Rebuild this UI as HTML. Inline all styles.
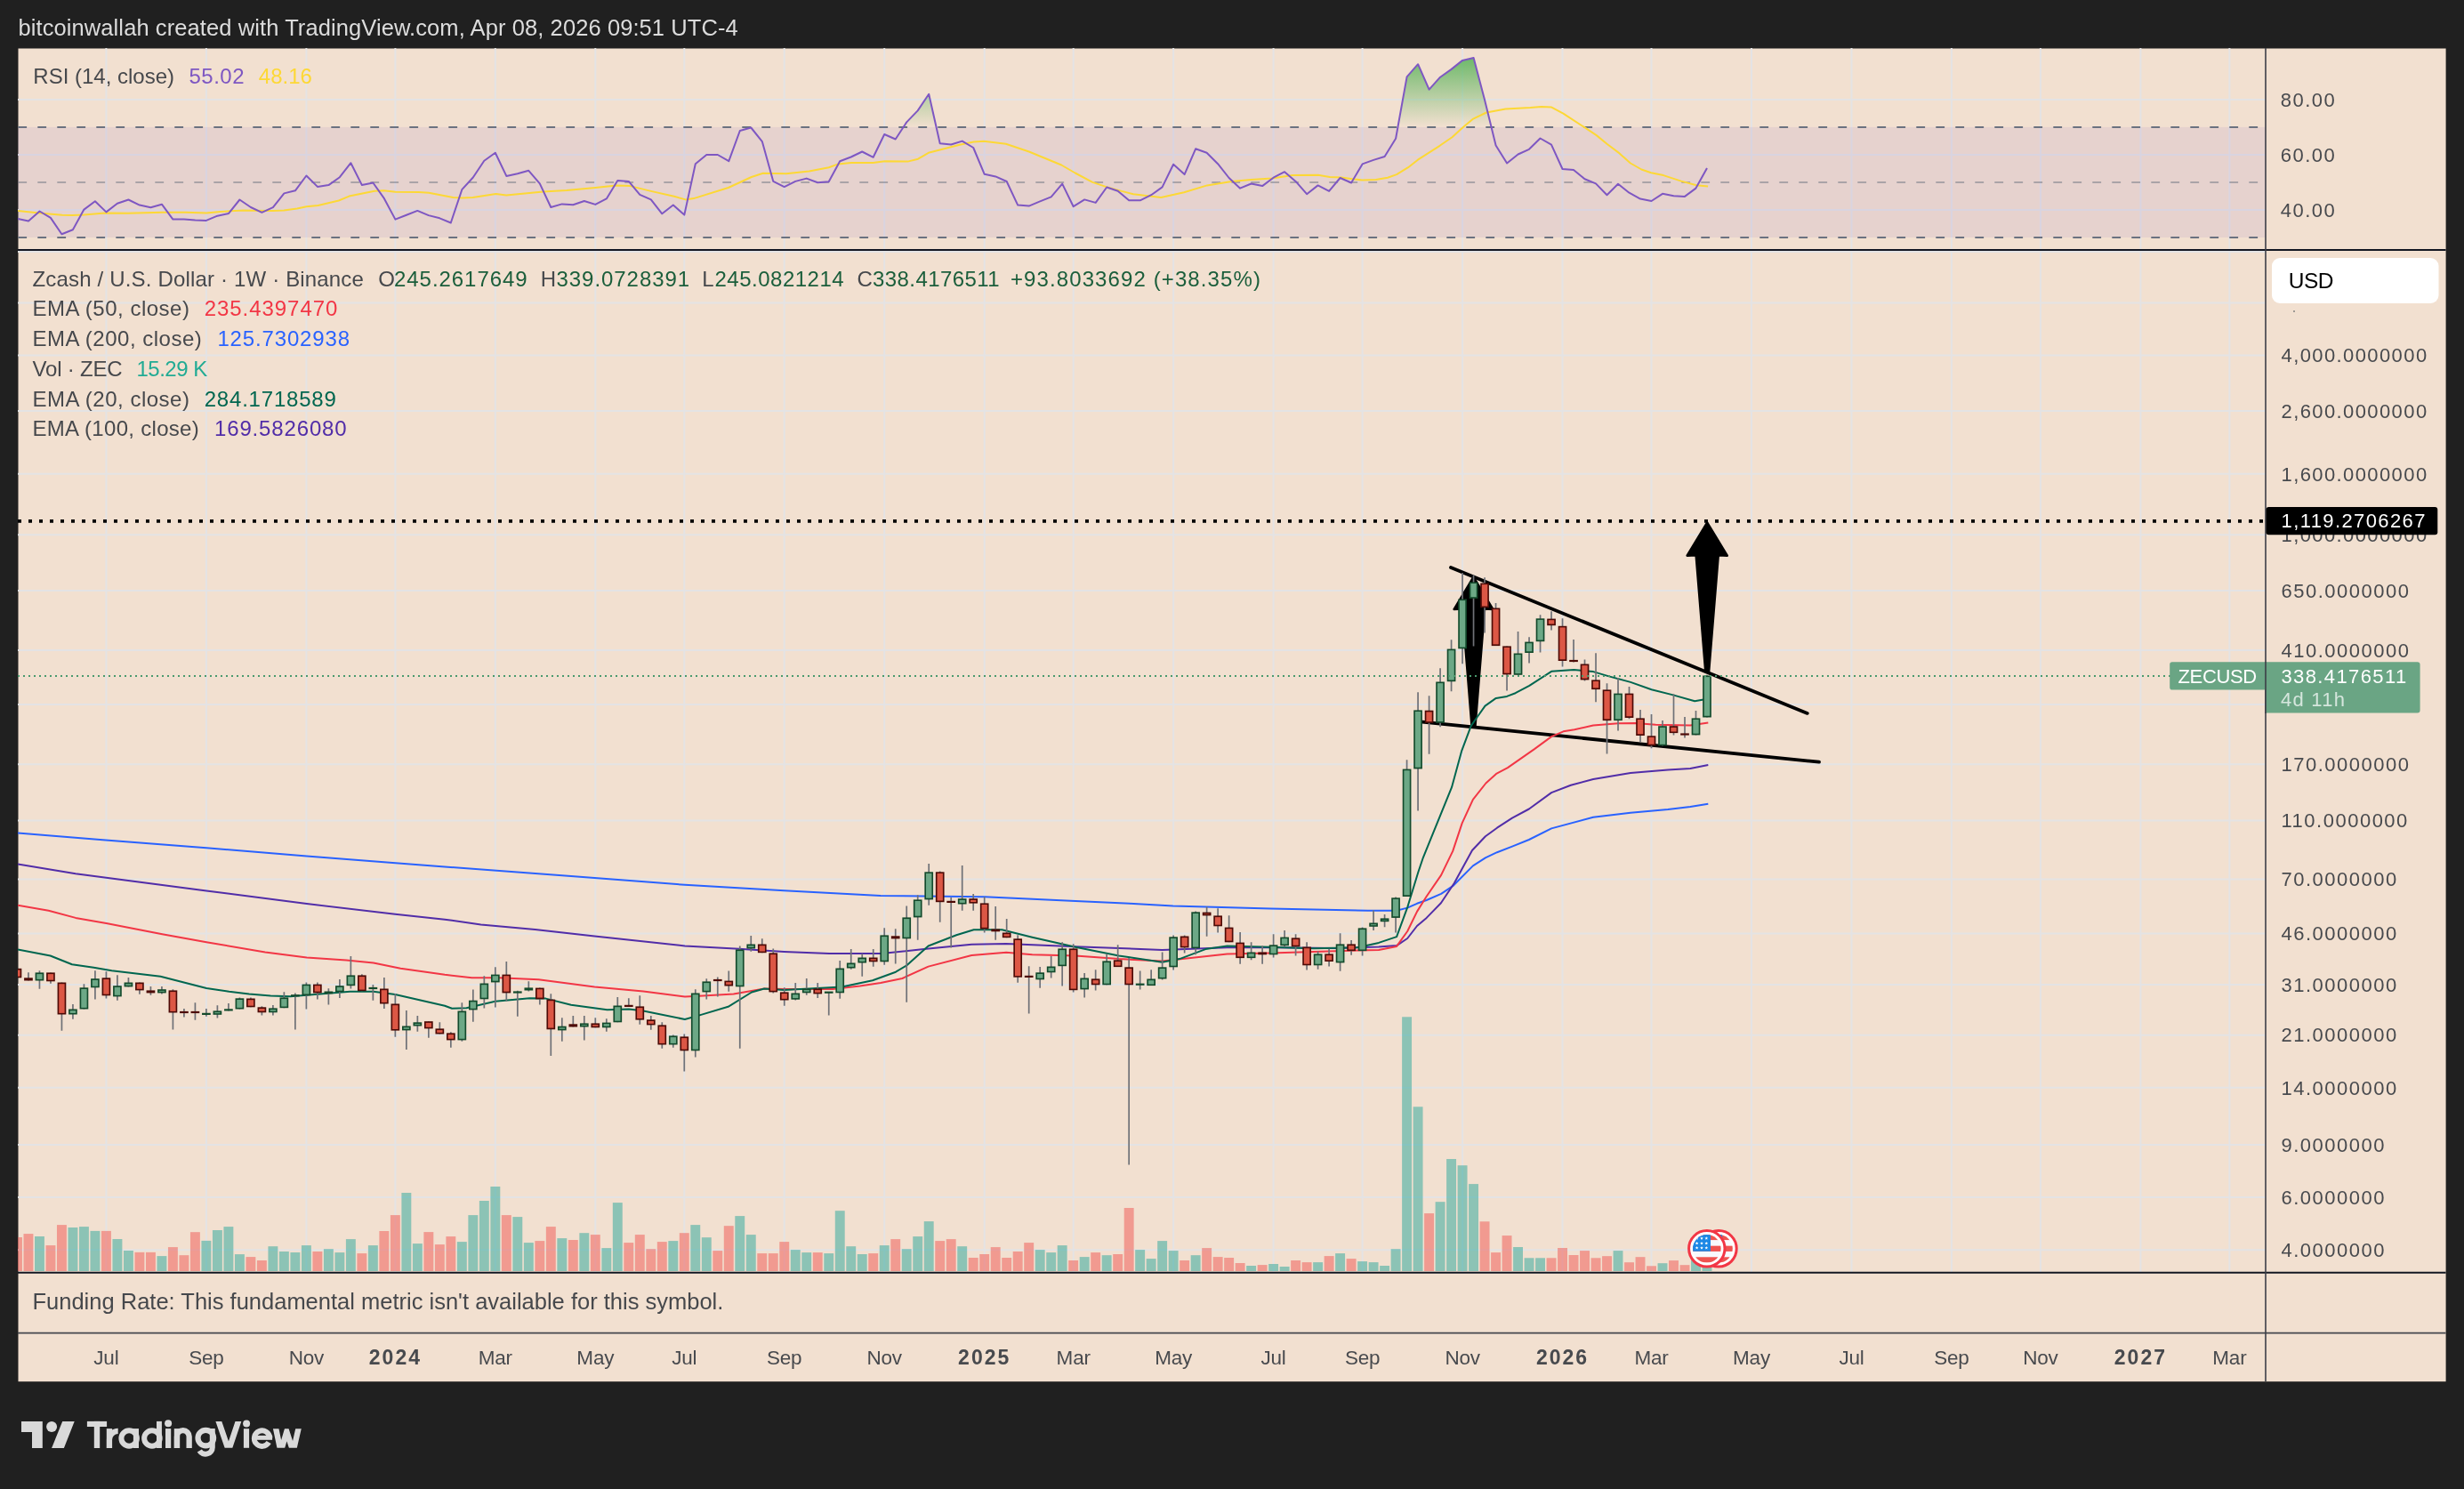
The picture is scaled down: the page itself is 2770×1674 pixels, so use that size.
<!DOCTYPE html>
<html><head><meta charset="utf-8"><title>ZECUSD chart</title>
<style>
html,body{margin:0;padding:0;background:#202020;width:2770px;height:1674px;overflow:hidden}
svg{position:absolute;left:0;top:0;display:block;will-change:transform}
text{font-family:"Liberation Sans", sans-serif}
</style></head><body>
<svg width="2770" height="1674" viewBox="0 0 2770 1674">
<defs>
<clipPath id="cpMain"><rect x="20" y="281" width="2527" height="1149.5"/></clipPath>
<clipPath id="cpRsi"><rect x="20" y="54" width="2527" height="227"/></clipPath>
<clipPath id="cpOB"><rect x="20" y="54" width="2527" height="88.9"/></clipPath>
<linearGradient id="gOB" x1="0" y1="49.8" x2="0" y2="142.9" gradientUnits="userSpaceOnUse">
<stop offset="0" stop-color="#4caf50" stop-opacity="0.95"/><stop offset="1" stop-color="#4caf50" stop-opacity="0"/></linearGradient>
</defs>

<rect x="0" y="0" width="2770" height="1674" fill="#202020"/>
<rect x="20.5" y="54.5" width="2729.1" height="1498.7" fill="#f2e0d0"/>
<path d="M119.4 54V1430.5 M231.9 54V1430.5 M344.4 54V1430.5 M444.4 54V1430.5 M556.8 54V1430.5 M669.3 54V1430.5 M769.3 54V1430.5 M881.7 54V1430.5 M994.2 54V1430.5 M1106.7 54V1430.5 M1206.7 54V1430.5 M1319.1 54V1430.5 M1431.6 54V1430.5 M1531.6 54V1430.5 M1644.1 54V1430.5 M1756.5 54V1430.5 M1856.5 54V1430.5 M1969.0 54V1430.5 M2081.5 54V1430.5 M2193.9 54V1430.5 M2293.9 54V1430.5 M2406.4 54V1430.5 M2506.4 54V1430.5 M20 283.0H2547 M20 340.4H2547 M20 399.4H2547 M20 462.1H2547 M20 532.8H2547 M20 601.2H2547 M20 664.0H2547 M20 731.1H2547 M20 791.9H2547 M20 859.2H2547 M20 922.6H2547 M20 988.4H2547 M20 1049.6H2547 M20 1107.0H2547 M20 1163.7H2547 M20 1222.8H2547 M20 1287.1H2547 M20 1346.1H2547 M20 1405.2H2547 M20 111.9H2547 M20 173.9H2547 M20 236.0H2547" stroke="#e4e3e4" stroke-width="2" fill="none"/>
<rect x="20" y="142.9" width="2527" height="124.1" fill="#7e57c2" fill-opacity="0.1"/>
<path d="M20.3 142.9H2547M20.3 267.0H2547" stroke="#6b7280" stroke-width="2" stroke-dasharray="9.8 12.2"/>
<path d="M20.3 204.9H2547" stroke="#787b86" stroke-opacity="0.55" stroke-width="2" stroke-dasharray="9.8 12.2"/>
<g clip-path="url(#cpOB)"><polygon points="20,246.1 32,248.6 44.5,237.5 56.9,244.9 69.4,263.2 81.9,258.3 94.4,235.6 106.9,226.2 119.4,238.4 131.9,228.8 144.4,224.5 156.9,230.6 169.4,233.2 181.9,229.7 194.4,246.6 206.9,246.6 219.4,247.5 231.9,247.9 244.4,242.7 256.9,240.1 269.4,224.5 281.9,233 294.4,238.8 306.9,233.2 319.4,217.4 331.9,214.3 344.4,197.5 356.9,209.9 369.4,208.1 381.9,199.2 394.4,183.2 406.9,208.1 419.4,205.5 431.9,223.2 444.4,246.6 456.9,241.7 469.3,236.9 481.8,242.1 494.3,245.3 506.8,250.5 519.3,213.2 531.8,199.5 544.3,180.8 556.8,171.7 569.3,197.9 581.8,195.3 594.3,191.8 606.8,206.4 619.3,233 631.8,229.4 644.3,230.3 656.8,226 669.3,229.9 681.8,223.4 694.3,203 706.8,203.9 719.3,218.8 731.8,224.4 744.3,240.3 756.8,230.5 769.3,241.6 781.8,184.2 794.3,174 806.8,174 819.3,181.2 831.8,147 844.3,143.5 856.8,159.1 869.3,203.9 881.7,210.1 894.2,203.9 906.7,200.6 919.2,205.2 931.7,204.3 944.2,181.2 956.7,176.5 969.2,170.5 981.7,176.8 994.2,151 1006.7,156.5 1019.2,137.4 1031.7,124.4 1044.2,105.8 1056.7,161.2 1069.2,162.5 1081.7,158.6 1094.2,166 1106.7,195.8 1119.2,198.4 1131.7,204 1144.2,230.6 1156.7,231.6 1169.2,226.4 1181.7,221.4 1194.2,206.6 1206.7,232.2 1219.2,224.4 1231.7,227.9 1244.2,210.5 1256.7,214.7 1269.2,225.2 1281.7,225.3 1294.2,219.2 1306.6,210.4 1319.1,184.7 1331.6,196.1 1344.1,167.3 1356.6,171.7 1369.1,184.2 1381.6,200 1394.1,211.7 1406.6,206.5 1419.1,209.1 1431.6,199.7 1444.1,193.2 1456.6,203.9 1469.1,218.2 1481.6,208.4 1494.1,214.9 1506.6,200 1519.1,205.5 1531.6,184.4 1544.1,179.9 1556.6,176 1569.1,155.8 1581.6,86.4 1594.1,72.2 1606.6,100.6 1619.1,86.7 1631.6,77.9 1644.1,67.9 1656.6,65.1 1669.1,112.6 1681.6,163.5 1694.1,183.5 1706.6,173.5 1719,167.8 1731.5,155.5 1744,162.7 1756.5,190 1769,191 1781.5,201.3 1794,206.4 1806.5,219.3 1819,206.7 1831.5,216.7 1844,223.6 1856.5,226 1869,217.8 1881.5,220.3 1894,220.9 1906.5,211.6 1919,188.9 1919,142.9 20,142.9" fill="url(#gOB)"/></g>
<g clip-path="url(#cpRsi)" fill="none" stroke-width="2" stroke-linejoin="round">
<polyline points="20.2,236.9 43.9,239.5 69.8,241.7 81.5,242.1 94.5,241.4 117.9,239.5 143.9,239.7 182.8,238.8 208.8,238.8 232.2,239.5 247.8,237.9 273.7,236.5 306.2,236.9 319.2,236.6 334,234.5 344.5,232.3 357.5,231 380.8,225.5 392.5,220.6 421.1,214.8 431.5,214.2 444.5,215.8 470.5,216.1 482.1,216.8 509.4,221.9 519.8,222.6 531.5,221.9 557.5,218.1 569.2,219.4 597.7,216.8 610.7,215.5 637,214 669.5,211 692.8,208.4 708.4,209.1 731.8,214.9 757.8,220.8 770.8,224.4 779.9,223.1 818.8,211 844.8,199 857.8,194.8 883.8,195.2 909.7,192.5 931.8,188.3 942.2,184.4 957,183.1 981.5,182.9 994.5,181.2 1020.4,181.6 1032.1,178.7 1043.8,171.8 1078.9,162.7 1094.5,159.5 1106.1,158.8 1130.8,161.7 1156.8,170.5 1193.2,185.5 1208.7,194.5 1228.2,204.9 1243.8,210.1 1261,214.9 1274,218.2 1305.2,222.1 1331.1,216.2 1357.1,208.4 1384.4,203.9 1406.5,202 1429.8,200.6 1453.2,197.1 1481.8,196.8 1494.8,199 1507.8,199.4 1531.1,202.6 1546.7,201.9 1560,199.7 1570.1,196.1 1583.1,188.2 1593.9,179.7 1618.6,163.8 1632.5,154.2 1644.8,143.1 1655.6,133.9 1671,126.5 1692.6,122.6 1720.4,121.1 1732.7,120 1744.3,120.6 1757.4,127.7 1780.5,142.7 1794.4,151.9 1806.8,162 1820.6,172.4 1833,183.5 1845.3,190.5 1856.1,194.3 1870,197.1 1890,203.6 1907,208.2 1920.1,209.5" stroke="#fdd835"/>
<polyline points="20,246.1 32,248.6 44.5,237.5 56.9,244.9 69.4,263.2 81.9,258.3 94.4,235.6 106.9,226.2 119.4,238.4 131.9,228.8 144.4,224.5 156.9,230.6 169.4,233.2 181.9,229.7 194.4,246.6 206.9,246.6 219.4,247.5 231.9,247.9 244.4,242.7 256.9,240.1 269.4,224.5 281.9,233 294.4,238.8 306.9,233.2 319.4,217.4 331.9,214.3 344.4,197.5 356.9,209.9 369.4,208.1 381.9,199.2 394.4,183.2 406.9,208.1 419.4,205.5 431.9,223.2 444.4,246.6 456.9,241.7 469.3,236.9 481.8,242.1 494.3,245.3 506.8,250.5 519.3,213.2 531.8,199.5 544.3,180.8 556.8,171.7 569.3,197.9 581.8,195.3 594.3,191.8 606.8,206.4 619.3,233 631.8,229.4 644.3,230.3 656.8,226 669.3,229.9 681.8,223.4 694.3,203 706.8,203.9 719.3,218.8 731.8,224.4 744.3,240.3 756.8,230.5 769.3,241.6 781.8,184.2 794.3,174 806.8,174 819.3,181.2 831.8,147 844.3,143.5 856.8,159.1 869.3,203.9 881.7,210.1 894.2,203.9 906.7,200.6 919.2,205.2 931.7,204.3 944.2,181.2 956.7,176.5 969.2,170.5 981.7,176.8 994.2,151 1006.7,156.5 1019.2,137.4 1031.7,124.4 1044.2,105.8 1056.7,161.2 1069.2,162.5 1081.7,158.6 1094.2,166 1106.7,195.8 1119.2,198.4 1131.7,204 1144.2,230.6 1156.7,231.6 1169.2,226.4 1181.7,221.4 1194.2,206.6 1206.7,232.2 1219.2,224.4 1231.7,227.9 1244.2,210.5 1256.7,214.7 1269.2,225.2 1281.7,225.3 1294.2,219.2 1306.6,210.4 1319.1,184.7 1331.6,196.1 1344.1,167.3 1356.6,171.7 1369.1,184.2 1381.6,200 1394.1,211.7 1406.6,206.5 1419.1,209.1 1431.6,199.7 1444.1,193.2 1456.6,203.9 1469.1,218.2 1481.6,208.4 1494.1,214.9 1506.6,200 1519.1,205.5 1531.6,184.4 1544.1,179.9 1556.6,176 1569.1,155.8 1581.6,86.4 1594.1,72.2 1606.6,100.6 1619.1,86.7 1631.6,77.9 1644.1,67.9 1656.6,65.1 1669.1,112.6 1681.6,163.5 1694.1,183.5 1706.6,173.5 1719,167.8 1731.5,155.5 1744,162.7 1756.5,190 1769,191 1781.5,201.3 1794,206.4 1806.5,219.3 1819,206.7 1831.5,216.7 1844,223.6 1856.5,226 1869,217.8 1881.5,220.3 1894,220.9 1906.5,211.6 1919,188.9" stroke="#7e57c2"/>
</g>
<g clip-path="url(#cpMain)">
<g fill="#26a69a" fill-opacity="0.5"><rect x="39.00" y="1390.0" width="10.9" height="39.0"/><rect x="76.49" y="1380.0" width="10.9" height="49.0"/><rect x="88.99" y="1379.1" width="10.9" height="49.9"/><rect x="101.48" y="1383.9" width="10.9" height="45.1"/><rect x="126.48" y="1393.0" width="10.9" height="36.0"/><rect x="138.98" y="1406.0" width="10.9" height="23.0"/><rect x="176.47" y="1412.1" width="10.9" height="16.9"/><rect x="226.45" y="1394.9" width="10.9" height="34.1"/><rect x="238.95" y="1383.0" width="10.9" height="46.0"/><rect x="251.45" y="1379.1" width="10.9" height="49.9"/><rect x="263.95" y="1410.1" width="10.9" height="18.9"/><rect x="301.44" y="1401.2" width="10.9" height="27.8"/><rect x="313.93" y="1407.0" width="10.9" height="22.0"/><rect x="326.43" y="1408.0" width="10.9" height="21.0"/><rect x="338.93" y="1400.1" width="10.9" height="28.9"/><rect x="363.92" y="1404.2" width="10.9" height="24.8"/><rect x="376.42" y="1408.1" width="10.9" height="20.9"/><rect x="388.92" y="1393.1" width="10.9" height="35.9"/><rect x="413.91" y="1400.1" width="10.9" height="28.9"/><rect x="451.40" y="1341.0" width="10.9" height="88.0"/><rect x="463.90" y="1398.1" width="10.9" height="30.9"/><rect x="513.89" y="1396.1" width="10.9" height="32.9"/><rect x="526.38" y="1366.1" width="10.9" height="62.9"/><rect x="538.88" y="1350.0" width="10.9" height="79.0"/><rect x="551.38" y="1334.0" width="10.9" height="95.0"/><rect x="576.37" y="1368.1" width="10.9" height="60.9"/><rect x="588.87" y="1397.1" width="10.9" height="31.9"/><rect x="626.36" y="1392.1" width="10.9" height="36.9"/><rect x="651.35" y="1386.2" width="10.9" height="42.8"/><rect x="676.35" y="1403.1" width="10.9" height="25.9"/><rect x="688.84" y="1352.1" width="10.9" height="76.9"/><rect x="751.33" y="1395.1" width="10.9" height="33.9"/><rect x="776.32" y="1377.1" width="10.9" height="51.9"/><rect x="788.82" y="1391.2" width="10.9" height="37.8"/><rect x="826.31" y="1367.1" width="10.9" height="61.9"/><rect x="838.81" y="1388.1" width="10.9" height="40.9"/><rect x="888.80" y="1405.1" width="10.9" height="23.9"/><rect x="901.29" y="1408.1" width="10.9" height="20.9"/><rect x="926.29" y="1409.1" width="10.9" height="19.9"/><rect x="938.78" y="1361.2" width="10.9" height="67.8"/><rect x="951.28" y="1401.2" width="10.9" height="27.8"/><rect x="963.78" y="1410.0" width="10.9" height="19.0"/><rect x="988.77" y="1400.1" width="10.9" height="28.9"/><rect x="1013.77" y="1404.2" width="10.9" height="24.8"/><rect x="1026.26" y="1390.1" width="10.9" height="38.9"/><rect x="1038.76" y="1373.1" width="10.9" height="55.9"/><rect x="1076.25" y="1401.2" width="10.9" height="27.8"/><rect x="1163.73" y="1405.1" width="10.9" height="23.9"/><rect x="1176.23" y="1408.1" width="10.9" height="20.9"/><rect x="1188.72" y="1400.1" width="10.9" height="28.9"/><rect x="1213.72" y="1413.1" width="10.9" height="15.9"/><rect x="1238.71" y="1411.2" width="10.9" height="17.8"/><rect x="1276.20" y="1405.1" width="10.9" height="23.9"/><rect x="1288.70" y="1415.1" width="10.9" height="13.9"/><rect x="1301.20" y="1395.1" width="10.9" height="33.9"/><rect x="1313.69" y="1406.1" width="10.9" height="22.9"/><rect x="1338.69" y="1411.2" width="10.9" height="17.8"/><rect x="1401.17" y="1423.0" width="10.9" height="6.0"/><rect x="1426.17" y="1421.0" width="10.9" height="8.0"/><rect x="1438.66" y="1424.0" width="10.9" height="5.0"/><rect x="1476.15" y="1419.1" width="10.9" height="9.9"/><rect x="1501.15" y="1409.1" width="10.9" height="19.9"/><rect x="1526.14" y="1418.1" width="10.9" height="10.9"/><rect x="1538.64" y="1419.1" width="10.9" height="9.9"/><rect x="1551.14" y="1423.0" width="10.9" height="6.0"/><rect x="1563.63" y="1404.2" width="10.9" height="24.8"/><rect x="1576.13" y="1143.3" width="10.9" height="285.7"/><rect x="1588.63" y="1244.3" width="10.9" height="184.7"/><rect x="1613.62" y="1351.2" width="10.9" height="77.8"/><rect x="1626.12" y="1303.0" width="10.9" height="126.0"/><rect x="1638.62" y="1310.2" width="10.9" height="118.8"/><rect x="1651.11" y="1331.1" width="10.9" height="97.9"/><rect x="1701.10" y="1402.0" width="10.9" height="27.0"/><rect x="1713.60" y="1414.3" width="10.9" height="14.7"/><rect x="1726.10" y="1414.3" width="10.9" height="14.7"/><rect x="1813.57" y="1406.1" width="10.9" height="22.9"/><rect x="1863.56" y="1420.2" width="10.9" height="8.8"/><rect x="1901.05" y="1416.7" width="10.9" height="12.3"/><rect x="1913.55" y="1425.0" width="10.9" height="4.0"/></g>
<g fill="#ef5350" fill-opacity="0.5"><rect x="14.01" y="1391.0" width="10.9" height="38.0"/><rect x="26.50" y="1387.1" width="10.9" height="41.9"/><rect x="51.50" y="1400.1" width="10.9" height="28.9"/><rect x="63.99" y="1377.1" width="10.9" height="51.9"/><rect x="113.98" y="1383.9" width="10.9" height="45.1"/><rect x="151.47" y="1407.9" width="10.9" height="21.1"/><rect x="163.97" y="1407.9" width="10.9" height="21.1"/><rect x="188.96" y="1402.1" width="10.9" height="26.9"/><rect x="201.46" y="1411.2" width="10.9" height="17.8"/><rect x="213.96" y="1385.2" width="10.9" height="43.8"/><rect x="276.44" y="1413.1" width="10.9" height="15.9"/><rect x="288.94" y="1417.0" width="10.9" height="12.0"/><rect x="351.43" y="1407.0" width="10.9" height="22.0"/><rect x="401.41" y="1409.1" width="10.9" height="19.9"/><rect x="426.41" y="1384.0" width="10.9" height="45.0"/><rect x="438.90" y="1366.1" width="10.9" height="62.9"/><rect x="476.40" y="1385.1" width="10.9" height="43.9"/><rect x="488.89" y="1399.1" width="10.9" height="29.9"/><rect x="501.39" y="1390.1" width="10.9" height="38.9"/><rect x="563.87" y="1366.1" width="10.9" height="62.9"/><rect x="601.37" y="1395.1" width="10.9" height="33.9"/><rect x="613.86" y="1379.1" width="10.9" height="49.9"/><rect x="638.86" y="1394.0" width="10.9" height="35.0"/><rect x="663.85" y="1388.1" width="10.9" height="40.9"/><rect x="701.34" y="1397.1" width="10.9" height="31.9"/><rect x="713.84" y="1388.1" width="10.9" height="40.9"/><rect x="726.34" y="1404.2" width="10.9" height="24.8"/><rect x="738.83" y="1396.1" width="10.9" height="32.9"/><rect x="763.83" y="1386.2" width="10.9" height="42.8"/><rect x="801.32" y="1406.1" width="10.9" height="22.9"/><rect x="813.81" y="1378.2" width="10.9" height="50.8"/><rect x="851.31" y="1409.1" width="10.9" height="19.9"/><rect x="863.80" y="1409.1" width="10.9" height="19.9"/><rect x="876.30" y="1396.1" width="10.9" height="32.9"/><rect x="913.79" y="1408.1" width="10.9" height="20.9"/><rect x="976.27" y="1409.1" width="10.9" height="19.9"/><rect x="1001.27" y="1393.1" width="10.9" height="35.9"/><rect x="1051.26" y="1395.1" width="10.9" height="33.9"/><rect x="1063.75" y="1393.1" width="10.9" height="35.9"/><rect x="1088.75" y="1414.0" width="10.9" height="15.0"/><rect x="1101.25" y="1410.0" width="10.9" height="19.0"/><rect x="1113.74" y="1402.1" width="10.9" height="26.9"/><rect x="1126.24" y="1414.0" width="10.9" height="15.0"/><rect x="1138.74" y="1407.0" width="10.9" height="22.0"/><rect x="1151.23" y="1397.1" width="10.9" height="31.9"/><rect x="1201.22" y="1417.0" width="10.9" height="12.0"/><rect x="1226.21" y="1408.1" width="10.9" height="20.9"/><rect x="1251.21" y="1410.0" width="10.9" height="19.0"/><rect x="1263.71" y="1358.0" width="10.9" height="71.0"/><rect x="1326.19" y="1417.0" width="10.9" height="12.0"/><rect x="1351.18" y="1403.1" width="10.9" height="25.9"/><rect x="1363.68" y="1413.1" width="10.9" height="15.9"/><rect x="1376.18" y="1414.0" width="10.9" height="15.0"/><rect x="1388.68" y="1420.0" width="10.9" height="9.0"/><rect x="1413.67" y="1422.1" width="10.9" height="6.9"/><rect x="1451.16" y="1417.0" width="10.9" height="12.0"/><rect x="1463.66" y="1419.1" width="10.9" height="9.9"/><rect x="1488.65" y="1412.1" width="10.9" height="16.9"/><rect x="1513.65" y="1415.1" width="10.9" height="13.9"/><rect x="1601.12" y="1364.1" width="10.9" height="64.9"/><rect x="1663.61" y="1373.3" width="10.9" height="55.7"/><rect x="1676.11" y="1408.1" width="10.9" height="20.9"/><rect x="1688.60" y="1389.1" width="10.9" height="39.9"/><rect x="1738.59" y="1414.3" width="10.9" height="14.7"/><rect x="1751.09" y="1403.0" width="10.9" height="26.0"/><rect x="1763.59" y="1411.0" width="10.9" height="18.0"/><rect x="1776.08" y="1406.1" width="10.9" height="22.9"/><rect x="1788.58" y="1414.3" width="10.9" height="14.7"/><rect x="1801.08" y="1412.2" width="10.9" height="16.8"/><rect x="1826.07" y="1419.2" width="10.9" height="9.8"/><rect x="1838.57" y="1413.2" width="10.9" height="15.8"/><rect x="1851.07" y="1423.3" width="10.9" height="5.7"/><rect x="1876.06" y="1417.1" width="10.9" height="11.9"/><rect x="1888.56" y="1422.2" width="10.9" height="6.8"/></g>
<path d="M20 585.9H2547" stroke="#000" stroke-width="3.8" stroke-dasharray="4 8"/>
<g stroke="#000" stroke-width="3.8" stroke-linecap="round" fill="none">
<path d="M1631 638L2031.8 801.9"/>
<path d="M1599 811.7L2045 856.7"/>
</g>
<path d="M1919.2 587.4 L1941.8 624.6999999999999 L1931.8 624.3 L1921.2 754.6 L1917.2 754.6 L1906.6000000000001 624.3 L1896.6000000000001 624.6999999999999 Z" fill="#000" stroke="#000" stroke-width="2.4" stroke-linejoin="round"/>
<path d="M1656.5 648.5 L1678.5 685.0 L1669.1 684.6 L1658.5 816.6 L1654.5 816.6 L1643.9 684.6 L1634.5 685.0 Z" fill="#000" stroke="#000" stroke-width="2.4" stroke-linejoin="round"/>
<g fill="none" stroke-width="2" stroke-linejoin="round">
<polyline points="20,936.5 115.5,944.2 232.1,953.2 344.8,962.5 441.4,970 500,974.5 642,985 769.9,994.8 881.5,1001.3 990,1007 1106.9,1008.2 1209.1,1013.1 1270,1015.8 1318.7,1018.4 1428.3,1021.4 1537.8,1023.8 1570,1023.7 1582.2,1020.6 1593,1015.8 1603.7,1012 1620.1,1004.9 1633.2,996.2 1655.9,973.4 1669.9,964.3 1683,958.2 1700,951.6 1718.9,944 1744.1,931.4 1791.1,918.8 1833,913.7 1875,909.9 1900.2,907 1920.3,903.7" stroke="#2962ff"/>
<polyline points="20,971.4 85,982.2 232.1,1001.5 344.8,1016.1 444.2,1027.8 500,1033.7 540.6,1039.4 601.5,1045.1 668.4,1052.6 769.9,1063.4 830.8,1066.8 881.5,1069.9 932.2,1071.9 991.1,1071.9 1038.7,1067.1 1092.3,1061.8 1131.2,1061 1209.1,1064.2 1306.5,1067.9 1379.6,1065.2 1428.3,1065.2 1501.3,1065.9 1550,1064.4 1570.1,1063.1 1582.2,1055 1593,1041 1603.7,1031.9 1619.9,1015.3 1634.9,992.7 1655,956 1669.9,940.3 1683,930.7 1700,919.7 1718.9,909.5 1744.1,891.1 1765.9,882.7 1791.1,876 1833,868.9 1875,865.6 1900.2,863.9 1920.3,860" stroke="#512da8"/>
<polyline points="20,1017.7 54.6,1023.8 85,1031.9 119.5,1038 182.4,1050.2 232.1,1059.3 298.1,1070.5 344.8,1076.5 389.4,1079.6 419.8,1082.6 450.3,1088.7 500,1095.8 530.4,1099.3 560.9,1099.3 605.5,1101.3 668.4,1109.4 723.2,1114.5 769.9,1120.6 790.2,1119.6 824.7,1117.6 859.2,1111.5 881.5,1112.1 936.3,1112.1 966.7,1108.4 990,1104.9 1014.3,1100 1043.6,1086.6 1092.3,1074 1131.2,1070.8 1160.4,1073.2 1209.1,1074.4 1257.8,1078.1 1306.5,1080.5 1343.1,1076.4 1379.6,1072.5 1428.3,1071.5 1477,1070.1 1525.7,1068.4 1550,1067.9 1570.1,1063.9 1582.2,1047 1593,1024.9 1603.7,1007.7 1620.1,983.9 1633.2,956.9 1643.7,925.4 1655.9,898.8 1670.4,880.5 1682.6,869.6 1694.9,863.1 1725,842.1 1744.1,828.1 1757.5,822.3 1770,820.2 1791.1,815.5 1819,813.3 1838.5,813.1 1861.3,814.7 1900.2,815.5 1920.3,812.5" stroke="#f23645"/>
<polyline points="20,1067.4 56.6,1074.5 81,1084.3 105.3,1087.7 125.6,1091.2 180.4,1097.8 232.1,1111 257.5,1114.7 280,1117.4 304.2,1119.6 326.5,1120.2 393.5,1114.7 419.8,1114.7 444.2,1118.1 500,1130.7 508.1,1133.8 524.4,1133.2 556.8,1125.7 595.4,1122.2 613.6,1122.6 642,1129.7 682.6,1135.2 707,1134.4 723.2,1136.4 769.9,1146 788.1,1140.9 818.6,1131.8 845,1115.5 859.2,1111.5 881.5,1113.1 946.4,1109.4 980.9,1102.3 1007,1092.7 1019.2,1085.4 1043.6,1063.5 1075.2,1051.3 1094.7,1045.2 1126.4,1045.2 1160.4,1053.7 1184.8,1059.3 1209.1,1064.7 1257.8,1074.4 1306.5,1081.7 1326,1078.1 1355.2,1067.1 1379.6,1063.5 1428.3,1064.7 1477,1066.2 1525.7,1065.2 1550,1059.9 1570.1,1053.1 1582.2,1020.1 1594.5,980 1600,963.8 1632,885.2 1643.3,843.8 1653.8,815.9 1659.9,807.2 1669.5,793.6 1681.8,784.9 1694,782.9 1703.6,779.2 1719.3,770.9 1744.1,754.8 1769.3,753.1 1791.1,755.1 1807.9,760.1 1833,766.9 1856.6,775.3 1880,781.1 1905.2,788.3 1913.6,786.7 1919,786" stroke="#00664f"/>
</g>
<path d="M19.46 1088.8V1104.0M31.95 1093.2V1102.5M44.45 1091.3V1111.7M56.95 1093.4V1105.7M69.44 1104.5V1158.7M81.94 1129.0V1145.7M94.44 1106.3V1134.5M106.93 1091.3V1123.6M119.43 1092.2V1122.5M131.93 1096.2V1124.8M144.43 1099.1V1109.4M156.92 1104.5V1117.7M169.42 1109.1V1118.7M181.92 1109.1V1117.6M194.41 1112.2V1157.5M206.91 1134.1V1143.6M219.41 1127.3V1146.8M231.90 1134.1V1142.7M244.40 1130.3V1144.5M256.90 1128.0V1136.5M269.40 1121.4V1134.5M281.89 1121.4V1132.3M294.39 1131.2V1141.6M306.89 1130.1V1141.6M319.38 1115.3V1133.2M331.88 1116.4V1157.5M344.38 1104.4V1134.5M356.88 1104.4V1123.6M369.37 1111.2V1129.6M381.87 1101.1V1121.9M394.37 1075.1V1111.5M406.86 1095.3V1114.2M419.36 1107.1V1124.7M431.86 1098.9V1134.0M444.35 1117.0V1165.7M456.85 1135.9V1180.0M469.35 1142.0V1159.7M481.85 1148.2V1166.8M494.34 1149.3V1162.5M506.84 1160.3V1177.8M519.34 1127.2V1170.7M531.83 1112.4V1148.8M544.33 1097.3V1133.6M556.83 1087.2V1132.5M569.32 1081.1V1125.4M581.82 1113.7V1142.7M594.32 1103.3V1114.5M606.82 1110.6V1129.6M619.31 1117.2V1186.9M631.81 1144.2V1170.7M644.31 1142.0V1154.5M656.80 1142.0V1169.6M669.30 1144.2V1155.3M681.80 1145.3V1159.7M694.29 1121.1V1149.3M706.79 1122.2V1131.8M719.29 1119.2V1151.8M731.79 1142.0V1157.7M744.28 1149.3V1178.7M756.78 1163.6V1177.8M769.28 1162.4V1204.4M781.77 1112.3V1188.4M794.27 1100.3V1123.6M806.77 1098.5V1120.5M819.26 1091.4V1114.8M831.76 1063.4V1178.7M844.26 1052.0V1069.7M856.76 1055.2V1071.2M869.25 1066.5V1116.5M881.75 1110.2V1130.8M894.25 1105.1V1124.5M906.74 1099.9V1118.8M919.24 1105.1V1121.9M931.74 1115.1V1141.6M944.23 1080.0V1122.8M956.73 1067.1V1089.7M969.23 1072.3V1097.7M981.73 1067.1V1086.8M994.22 1043.2V1084.8M1006.72 1044.2V1083.5M1019.22 1018.5V1126.7M1031.71 1006.2V1056.8M1044.21 971.1V1017.7M1056.71 979.4V1036.7M1069.20 1009.1V1065.6M1081.70 973.1V1023.7M1094.20 1005.1V1023.7M1106.70 1008.3V1048.5M1119.19 1019.1V1056.8M1131.69 1033.1V1054.2M1144.19 1051.3V1104.8M1156.68 1086.2V1139.6M1169.18 1087.1V1110.7M1181.68 1075.1V1099.5M1194.17 1059.3V1108.4M1206.67 1061.3V1115.5M1219.17 1094.1V1121.5M1231.66 1090.2V1113.6M1244.16 1072.5V1107.3M1256.66 1062.2V1087.1M1269.16 1077.0V1309.6M1281.65 1091.4V1112.5M1294.15 1090.3V1108.1M1306.65 1070.5V1101.5M1319.14 1051.4V1090.6M1331.64 1051.4V1071.6M1344.14 1024.5V1073.3M1356.63 1019.4V1052.7M1369.13 1021.2V1048.6M1381.63 1029.2V1059.3M1394.13 1048.1V1083.7M1406.62 1059.3V1079.3M1419.12 1063.2V1083.7M1431.62 1050.3V1076.6M1444.11 1046.1V1064.5M1456.61 1050.3V1074.4M1469.11 1059.3V1090.6M1481.61 1069.4V1089.7M1494.10 1066.7V1086.4M1506.60 1049.2V1091.7M1519.10 1057.1V1073.8M1531.59 1042.6V1074.4M1544.09 1023.4V1046.0M1556.59 1028.1V1042.2M1569.08 1008.4V1048.4M1581.58 854.2V1008.0M1594.08 778.3V911.6M1606.58 782.2V847.7M1619.07 751.2V817.2M1631.57 719.3V777.3M1644.07 643.9V746.3M1656.56 646.6V726.4M1669.06 649.2V711.6M1681.56 678.0V726.1M1694.05 726.4V776.6M1706.55 710.1V758.8M1719.05 716.3V745.6M1731.55 691.2V733.4M1744.04 687.2V708.6M1756.54 695.3V749.5M1769.04 719.0V744.5M1781.53 741.4V765.4M1794.03 734.3V789.3M1806.53 768.2V847.6M1819.02 761.9V821.5M1831.52 772.0V808.2M1844.02 797.9V834.1M1856.52 803.0V841.3M1869.01 809.9V838.4M1881.51 780.2V826.4M1894.01 805.9V829.5M1906.50 799.0V826.4M1919.00 758.7V806.5" stroke="#6f7177" stroke-width="1.7" fill="none"/>
<g fill="#134a2c"><rect x="39.60" y="1093.4" width="9.7" height="9.1"/><rect x="77.09" y="1134.5" width="9.7" height="6.0"/><rect x="89.59" y="1110.3" width="9.7" height="24.2"/><rect x="102.08" y="1100.2" width="9.7" height="10.1"/><rect x="127.08" y="1108.2" width="9.7" height="12.2"/><rect x="139.58" y="1104.5" width="9.7" height="4.9"/><rect x="177.07" y="1112.2" width="9.7" height="4.2"/><rect x="227.05" y="1138.8" width="9.7" height="2.2"/><rect x="239.55" y="1136.4" width="9.7" height="4.4"/><rect x="252.05" y="1134.3" width="9.7" height="2.2"/><rect x="264.55" y="1122.3" width="9.7" height="12.2"/><rect x="302.04" y="1133.4" width="9.7" height="4.9"/><rect x="314.53" y="1121.4" width="9.7" height="11.8"/><rect x="327.03" y="1118.2" width="9.7" height="2.2"/><rect x="339.53" y="1106.6" width="9.7" height="12.6"/><rect x="364.52" y="1114.5" width="9.7" height="2.7"/><rect x="377.02" y="1108.2" width="9.7" height="7.1"/><rect x="389.52" y="1096.4" width="9.7" height="11.8"/><rect x="414.51" y="1109.9" width="9.7" height="2.2"/><rect x="452.00" y="1153.5" width="9.7" height="4.9"/><rect x="464.50" y="1149.3" width="9.7" height="4.2"/><rect x="514.49" y="1136.5" width="9.7" height="32.9"/><rect x="526.98" y="1124.7" width="9.7" height="10.7"/><rect x="539.48" y="1105.5" width="9.7" height="17.8"/><rect x="551.98" y="1095.6" width="9.7" height="8.8"/><rect x="576.97" y="1114.4" width="9.7" height="2.2"/><rect x="589.47" y="1110.4" width="9.7" height="3.1"/><rect x="626.96" y="1153.7" width="9.7" height="4.7"/><rect x="651.95" y="1150.4" width="9.7" height="4.1"/><rect x="676.95" y="1149.6" width="9.7" height="5.7"/><rect x="689.44" y="1130.5" width="9.7" height="18.8"/><rect x="751.93" y="1164.4" width="9.7" height="10.1"/><rect x="776.92" y="1116.5" width="9.7" height="64.8"/><rect x="789.42" y="1103.4" width="9.7" height="12.0"/><rect x="826.91" y="1067.4" width="9.7" height="41.9"/><rect x="839.41" y="1061.5" width="9.7" height="5.0"/><rect x="889.40" y="1116.5" width="9.7" height="7.2"/><rect x="901.89" y="1111.4" width="9.7" height="4.9"/><rect x="926.89" y="1114.6" width="9.7" height="2.2"/><rect x="939.38" y="1088.5" width="9.7" height="27.8"/><rect x="951.88" y="1082.5" width="9.7" height="6.0"/><rect x="964.38" y="1076.5" width="9.7" height="6.0"/><rect x="989.37" y="1051.4" width="9.7" height="29.9"/><rect x="1014.37" y="1031.4" width="9.7" height="23.9"/><rect x="1026.86" y="1011.4" width="9.7" height="20.0"/><rect x="1039.36" y="980.3" width="9.7" height="31.1"/><rect x="1076.85" y="1010.2" width="9.7" height="6.3"/><rect x="1164.33" y="1093.3" width="9.7" height="8.0"/><rect x="1176.83" y="1086.5" width="9.7" height="6.8"/><rect x="1189.32" y="1066.4" width="9.7" height="19.8"/><rect x="1214.32" y="1099.5" width="9.7" height="12.9"/><rect x="1239.31" y="1080.4" width="9.7" height="26.9"/><rect x="1276.80" y="1105.6" width="9.7" height="2.2"/><rect x="1289.30" y="1100.5" width="9.7" height="7.6"/><rect x="1301.80" y="1087.3" width="9.7" height="13.2"/><rect x="1314.29" y="1053.3" width="9.7" height="34.0"/><rect x="1339.29" y="1025.3" width="9.7" height="40.9"/><rect x="1401.77" y="1070.5" width="9.7" height="6.6"/><rect x="1426.77" y="1062.3" width="9.7" height="11.0"/><rect x="1439.26" y="1053.6" width="9.7" height="9.6"/><rect x="1476.76" y="1072.4" width="9.7" height="12.9"/><rect x="1501.75" y="1061.4" width="9.7" height="21.0"/><rect x="1526.74" y="1043.4" width="9.7" height="25.7"/><rect x="1539.24" y="1037.5" width="9.7" height="4.3"/><rect x="1551.74" y="1032.4" width="9.7" height="3.8"/><rect x="1564.23" y="1009.3" width="9.7" height="22.6"/><rect x="1576.73" y="864.6" width="9.7" height="143.4"/><rect x="1589.23" y="798.4" width="9.7" height="66.0"/><rect x="1614.22" y="766.5" width="9.7" height="46.3"/><rect x="1626.72" y="729.6" width="9.7" height="36.6"/><rect x="1639.22" y="673.5" width="9.7" height="55.8"/><rect x="1651.71" y="654.4" width="9.7" height="18.5"/><rect x="1701.70" y="734.5" width="9.7" height="24.3"/><rect x="1714.20" y="721.6" width="9.7" height="12.4"/><rect x="1726.70" y="695.3" width="9.7" height="25.9"/><rect x="1814.17" y="779.6" width="9.7" height="30.5"/><rect x="1864.16" y="816.2" width="9.7" height="22.2"/><rect x="1901.65" y="807.4" width="9.7" height="19.0"/><rect x="1914.15" y="759.5" width="9.7" height="47.0"/></g>
<g fill="#6ca886"><rect x="41.25" y="1095.1" width="6.40" height="5.8"/><rect x="78.74" y="1136.2" width="6.40" height="2.7"/><rect x="91.24" y="1112.0" width="6.40" height="20.9"/><rect x="103.73" y="1101.9" width="6.40" height="6.8"/><rect x="128.73" y="1109.9" width="6.40" height="8.9"/><rect x="141.23" y="1106.2" width="6.40" height="1.6"/><rect x="178.72" y="1113.9" width="6.40" height="0.9"/><rect x="241.20" y="1138.1" width="6.40" height="1.1"/><rect x="266.20" y="1124.0" width="6.40" height="8.9"/><rect x="303.69" y="1135.1" width="6.40" height="1.6"/><rect x="316.18" y="1123.1" width="6.40" height="8.5"/><rect x="341.18" y="1108.2" width="6.40" height="9.3"/><rect x="378.67" y="1109.9" width="6.40" height="3.8"/><rect x="391.17" y="1098.1" width="6.40" height="8.5"/><rect x="453.65" y="1155.2" width="6.40" height="1.6"/><rect x="466.15" y="1151.0" width="6.40" height="0.9"/><rect x="516.14" y="1138.2" width="6.40" height="29.6"/><rect x="528.63" y="1126.4" width="6.40" height="7.4"/><rect x="541.13" y="1107.2" width="6.40" height="14.5"/><rect x="553.63" y="1097.2" width="6.40" height="5.5"/><rect x="628.61" y="1155.4" width="6.40" height="1.4"/><rect x="653.60" y="1152.1" width="6.40" height="0.8"/><rect x="678.60" y="1151.2" width="6.40" height="2.4"/><rect x="691.09" y="1132.2" width="6.40" height="15.5"/><rect x="753.58" y="1166.1" width="6.40" height="6.8"/><rect x="778.57" y="1118.2" width="6.40" height="61.5"/><rect x="791.07" y="1105.1" width="6.40" height="8.7"/><rect x="828.56" y="1069.1" width="6.40" height="38.6"/><rect x="841.06" y="1063.2" width="6.40" height="1.7"/><rect x="891.05" y="1118.2" width="6.40" height="3.9"/><rect x="903.54" y="1113.1" width="6.40" height="1.6"/><rect x="941.03" y="1090.2" width="6.40" height="24.5"/><rect x="953.53" y="1084.2" width="6.40" height="2.7"/><rect x="966.03" y="1078.2" width="6.40" height="2.7"/><rect x="991.02" y="1053.1" width="6.40" height="26.6"/><rect x="1016.02" y="1033.1" width="6.40" height="20.6"/><rect x="1028.51" y="1013.0" width="6.40" height="16.7"/><rect x="1041.01" y="981.9" width="6.40" height="27.8"/><rect x="1078.50" y="1011.9" width="6.40" height="3.0"/><rect x="1165.98" y="1095.0" width="6.40" height="4.7"/><rect x="1178.48" y="1088.2" width="6.40" height="3.5"/><rect x="1190.97" y="1068.1" width="6.40" height="16.5"/><rect x="1215.97" y="1101.2" width="6.40" height="9.6"/><rect x="1240.96" y="1082.1" width="6.40" height="23.6"/><rect x="1290.95" y="1102.2" width="6.40" height="4.3"/><rect x="1303.45" y="1089.0" width="6.40" height="9.9"/><rect x="1315.94" y="1055.0" width="6.40" height="30.7"/><rect x="1340.94" y="1027.0" width="6.40" height="37.6"/><rect x="1403.42" y="1072.2" width="6.40" height="3.3"/><rect x="1428.42" y="1064.0" width="6.40" height="7.7"/><rect x="1440.91" y="1055.2" width="6.40" height="6.3"/><rect x="1478.41" y="1074.1" width="6.40" height="9.6"/><rect x="1503.40" y="1063.1" width="6.40" height="17.7"/><rect x="1528.39" y="1045.1" width="6.40" height="22.4"/><rect x="1540.89" y="1039.2" width="6.40" height="1.0"/><rect x="1553.39" y="1034.1" width="6.40" height="0.5"/><rect x="1565.88" y="1010.9" width="6.40" height="19.3"/><rect x="1578.38" y="866.2" width="6.40" height="140.1"/><rect x="1590.88" y="800.0" width="6.40" height="62.7"/><rect x="1615.87" y="768.1" width="6.40" height="43.0"/><rect x="1628.37" y="731.2" width="6.40" height="33.3"/><rect x="1640.87" y="675.1" width="6.40" height="52.5"/><rect x="1653.36" y="656.0" width="6.40" height="15.2"/><rect x="1703.35" y="736.1" width="6.40" height="21.0"/><rect x="1715.85" y="723.2" width="6.40" height="9.1"/><rect x="1728.35" y="696.9" width="6.40" height="22.6"/><rect x="1815.82" y="781.2" width="6.40" height="27.2"/><rect x="1865.81" y="817.9" width="6.40" height="18.9"/><rect x="1903.30" y="809.0" width="6.40" height="15.7"/><rect x="1915.80" y="761.1" width="6.40" height="43.7"/></g>
<g fill="#4d0a06"><rect x="14.61" y="1088.8" width="9.7" height="10.5"/><rect x="27.10" y="1099.3" width="9.7" height="3.2"/><rect x="52.10" y="1093.4" width="9.7" height="9.9"/><rect x="64.59" y="1104.5" width="9.7" height="36.0"/><rect x="114.58" y="1099.3" width="9.7" height="20.0"/><rect x="152.07" y="1104.5" width="9.7" height="8.9"/><rect x="164.57" y="1113.4" width="9.7" height="3.0"/><rect x="189.56" y="1113.4" width="9.7" height="25.1"/><rect x="202.06" y="1136.9" width="9.7" height="2.2"/><rect x="214.56" y="1136.9" width="9.7" height="2.2"/><rect x="277.04" y="1122.5" width="9.7" height="9.8"/><rect x="289.54" y="1132.3" width="9.7" height="6.0"/><rect x="352.02" y="1106.6" width="9.7" height="9.8"/><rect x="402.01" y="1096.4" width="9.7" height="17.8"/><rect x="427.01" y="1111.5" width="9.7" height="17.0"/><rect x="439.50" y="1128.5" width="9.7" height="30.1"/><rect x="477.00" y="1148.2" width="9.7" height="8.2"/><rect x="489.49" y="1156.4" width="9.7" height="6.1"/><rect x="501.99" y="1161.4" width="9.7" height="8.0"/><rect x="564.47" y="1095.6" width="9.7" height="20.8"/><rect x="601.97" y="1110.6" width="9.7" height="12.7"/><rect x="614.46" y="1123.6" width="9.7" height="33.7"/><rect x="639.46" y="1151.3" width="9.7" height="3.2"/><rect x="664.45" y="1150.4" width="9.7" height="4.9"/><rect x="701.94" y="1129.8" width="9.7" height="2.2"/><rect x="714.44" y="1131.4" width="9.7" height="15.2"/><rect x="726.94" y="1146.3" width="9.7" height="6.1"/><rect x="739.43" y="1152.4" width="9.7" height="22.1"/><rect x="764.43" y="1165.4" width="9.7" height="15.9"/><rect x="801.92" y="1100.9" width="9.7" height="2.2"/><rect x="814.41" y="1102.6" width="9.7" height="5.9"/><rect x="851.91" y="1061.5" width="9.7" height="9.7"/><rect x="864.40" y="1071.4" width="9.7" height="44.0"/><rect x="876.90" y="1115.4" width="9.7" height="9.1"/><rect x="914.39" y="1111.4" width="9.7" height="6.0"/><rect x="976.88" y="1076.5" width="9.7" height="4.8"/><rect x="1001.87" y="1052.3" width="9.7" height="3.1"/><rect x="1051.86" y="980.3" width="9.7" height="33.9"/><rect x="1064.35" y="1012.8" width="9.7" height="2.2"/><rect x="1089.35" y="1010.2" width="9.7" height="5.4"/><rect x="1101.85" y="1015.4" width="9.7" height="29.1"/><rect x="1114.34" y="1044.5" width="9.7" height="2.8"/><rect x="1126.84" y="1048.5" width="9.7" height="5.7"/><rect x="1139.34" y="1055.3" width="9.7" height="43.4"/><rect x="1151.83" y="1096.8" width="9.7" height="2.2"/><rect x="1201.82" y="1066.4" width="9.7" height="46.8"/><rect x="1226.82" y="1100.4" width="9.7" height="6.9"/><rect x="1251.81" y="1079.3" width="9.7" height="7.8"/><rect x="1264.31" y="1087.3" width="9.7" height="20.0"/><rect x="1326.79" y="1052.5" width="9.7" height="12.9"/><rect x="1351.79" y="1025.6" width="9.7" height="3.8"/><rect x="1364.28" y="1029.4" width="9.7" height="11.9"/><rect x="1376.78" y="1042.6" width="9.7" height="16.7"/><rect x="1389.28" y="1059.6" width="9.7" height="17.5"/><rect x="1414.27" y="1070.5" width="9.7" height="2.8"/><rect x="1451.76" y="1054.4" width="9.7" height="9.9"/><rect x="1464.26" y="1064.5" width="9.7" height="20.8"/><rect x="1489.25" y="1072.4" width="9.7" height="8.6"/><rect x="1514.25" y="1061.4" width="9.7" height="7.7"/><rect x="1601.73" y="798.7" width="9.7" height="14.1"/><rect x="1664.21" y="655.5" width="9.7" height="27.7"/><rect x="1676.71" y="683.5" width="9.7" height="42.6"/><rect x="1689.20" y="726.4" width="9.7" height="32.0"/><rect x="1739.19" y="695.6" width="9.7" height="7.6"/><rect x="1751.69" y="703.8" width="9.7" height="39.2"/><rect x="1764.19" y="741.9" width="9.7" height="2.2"/><rect x="1776.68" y="746.5" width="9.7" height="17.9"/><rect x="1789.18" y="764.4" width="9.7" height="10.7"/><rect x="1801.68" y="775.4" width="9.7" height="34.7"/><rect x="1826.67" y="779.6" width="9.7" height="27.4"/><rect x="1839.17" y="807.4" width="9.7" height="19.6"/><rect x="1851.67" y="827.3" width="9.7" height="11.1"/><rect x="1876.66" y="816.2" width="9.7" height="7.9"/><rect x="1889.16" y="824.4" width="9.7" height="2.2"/></g>
<g fill="#dc5745"><rect x="16.26" y="1090.5" width="6.40" height="7.2"/><rect x="53.75" y="1095.1" width="6.40" height="6.6"/><rect x="66.24" y="1106.2" width="6.40" height="32.7"/><rect x="116.23" y="1101.0" width="6.40" height="16.7"/><rect x="153.72" y="1106.2" width="6.40" height="5.6"/><rect x="191.21" y="1115.1" width="6.40" height="21.8"/><rect x="278.69" y="1124.2" width="6.40" height="6.5"/><rect x="291.19" y="1134.0" width="6.40" height="2.7"/><rect x="353.67" y="1108.2" width="6.40" height="6.5"/><rect x="403.66" y="1098.1" width="6.40" height="14.5"/><rect x="428.66" y="1113.2" width="6.40" height="13.7"/><rect x="441.15" y="1130.2" width="6.40" height="26.8"/><rect x="478.64" y="1149.9" width="6.40" height="4.9"/><rect x="491.14" y="1158.1" width="6.40" height="2.8"/><rect x="503.64" y="1163.1" width="6.40" height="4.7"/><rect x="566.12" y="1097.2" width="6.40" height="17.5"/><rect x="603.62" y="1112.2" width="6.40" height="9.4"/><rect x="616.11" y="1125.2" width="6.40" height="30.4"/><rect x="666.10" y="1152.1" width="6.40" height="1.6"/><rect x="716.09" y="1133.1" width="6.40" height="11.9"/><rect x="728.59" y="1148.0" width="6.40" height="2.8"/><rect x="741.08" y="1154.1" width="6.40" height="18.8"/><rect x="766.08" y="1167.1" width="6.40" height="12.6"/><rect x="816.06" y="1104.2" width="6.40" height="2.6"/><rect x="853.56" y="1063.2" width="6.40" height="6.4"/><rect x="866.05" y="1073.1" width="6.40" height="40.7"/><rect x="878.55" y="1117.1" width="6.40" height="5.8"/><rect x="916.04" y="1113.1" width="6.40" height="2.7"/><rect x="978.52" y="1078.2" width="6.40" height="1.5"/><rect x="1053.51" y="981.9" width="6.40" height="30.6"/><rect x="1091.00" y="1011.9" width="6.40" height="2.1"/><rect x="1103.50" y="1017.0" width="6.40" height="25.8"/><rect x="1128.49" y="1050.2" width="6.40" height="2.4"/><rect x="1140.99" y="1057.0" width="6.40" height="40.1"/><rect x="1203.47" y="1068.1" width="6.40" height="43.5"/><rect x="1228.47" y="1102.1" width="6.40" height="3.6"/><rect x="1253.46" y="1081.0" width="6.40" height="4.5"/><rect x="1265.96" y="1089.0" width="6.40" height="16.7"/><rect x="1328.44" y="1054.2" width="6.40" height="9.6"/><rect x="1353.44" y="1027.2" width="6.40" height="0.5"/><rect x="1365.93" y="1031.1" width="6.40" height="8.6"/><rect x="1378.43" y="1044.2" width="6.40" height="13.4"/><rect x="1390.93" y="1061.2" width="6.40" height="14.2"/><rect x="1453.41" y="1056.1" width="6.40" height="6.6"/><rect x="1465.91" y="1066.2" width="6.40" height="17.5"/><rect x="1490.90" y="1074.1" width="6.40" height="5.3"/><rect x="1515.90" y="1063.1" width="6.40" height="4.4"/><rect x="1603.38" y="800.4" width="6.40" height="10.8"/><rect x="1665.86" y="657.1" width="6.40" height="24.4"/><rect x="1678.36" y="685.1" width="6.40" height="39.3"/><rect x="1690.85" y="728.0" width="6.40" height="28.7"/><rect x="1740.84" y="697.2" width="6.40" height="4.3"/><rect x="1753.34" y="705.4" width="6.40" height="35.9"/><rect x="1778.33" y="748.1" width="6.40" height="14.6"/><rect x="1790.83" y="766.0" width="6.40" height="7.4"/><rect x="1803.33" y="777.0" width="6.40" height="31.4"/><rect x="1828.32" y="781.2" width="6.40" height="24.1"/><rect x="1840.82" y="809.0" width="6.40" height="16.3"/><rect x="1853.32" y="828.9" width="6.40" height="7.8"/><rect x="1878.31" y="817.9" width="6.40" height="4.6"/></g>
<path d="M20 760H2547" stroke="#4a9a6e" stroke-width="2" stroke-dasharray="2 4"/>
</g>
<circle cx="1932" cy="1403.8" r="20.2" fill="#fff" stroke="#f23645" stroke-width="3"/><clipPath id="fc1932"><circle cx="1932" cy="1403.8" r="15.799999999999999"/></clipPath><g clip-path="url(#fc1932)"><rect x="1910.3" y="1388.00" width="43.4" height="6.32" fill="#ef5350"/><rect x="1910.3" y="1394.32" width="43.4" height="6.32" fill="#f8f9fd"/><rect x="1910.3" y="1400.64" width="43.4" height="6.32" fill="#ef5350"/><rect x="1910.3" y="1406.96" width="43.4" height="6.32" fill="#f8f9fd"/><rect x="1910.3" y="1413.28" width="43.4" height="6.32" fill="#ef5350"/><rect x="1910.3" y="1388.00" width="25.90" height="18.76" fill="#1e88e5"/><polygon points="1920.80,1390.30 1921.30,1391.51 1922.61,1391.61 1921.61,1392.46 1921.92,1393.74 1920.80,1393.06 1919.68,1393.74 1919.99,1392.46 1918.99,1391.61 1920.30,1391.51" fill="#fff"/><polygon points="1926.20,1390.30 1926.70,1391.51 1928.01,1391.61 1927.01,1392.46 1927.32,1393.74 1926.20,1393.06 1925.08,1393.74 1925.39,1392.46 1924.39,1391.61 1925.70,1391.51" fill="#fff"/><polygon points="1931.50,1390.30 1932.00,1391.51 1933.31,1391.61 1932.31,1392.46 1932.62,1393.74 1931.50,1393.06 1930.38,1393.74 1930.69,1392.46 1929.69,1391.61 1931.00,1391.51" fill="#fff"/><polygon points="1920.80,1395.90 1921.30,1397.11 1922.61,1397.21 1921.61,1398.06 1921.92,1399.34 1920.80,1398.65 1919.68,1399.34 1919.99,1398.06 1918.99,1397.21 1920.30,1397.11" fill="#fff"/><polygon points="1926.20,1395.90 1926.70,1397.11 1928.01,1397.21 1927.01,1398.06 1927.32,1399.34 1926.20,1398.65 1925.08,1399.34 1925.39,1398.06 1924.39,1397.21 1925.70,1397.11" fill="#fff"/><polygon points="1931.50,1395.90 1932.00,1397.11 1933.31,1397.21 1932.31,1398.06 1932.62,1399.34 1931.50,1398.65 1930.38,1399.34 1930.69,1398.06 1929.69,1397.21 1931.00,1397.11" fill="#fff"/><polygon points="1920.80,1401.00 1921.30,1402.21 1922.61,1402.31 1921.61,1403.16 1921.92,1404.44 1920.80,1403.75 1919.68,1404.44 1919.99,1403.16 1918.99,1402.31 1920.30,1402.21" fill="#fff"/><polygon points="1926.20,1401.00 1926.70,1402.21 1928.01,1402.31 1927.01,1403.16 1927.32,1404.44 1926.20,1403.75 1925.08,1404.44 1925.39,1403.16 1924.39,1402.31 1925.70,1402.21" fill="#fff"/><polygon points="1931.50,1401.00 1932.00,1402.21 1933.31,1402.31 1932.31,1403.16 1932.62,1404.44 1931.50,1403.75 1930.38,1404.44 1930.69,1403.16 1929.69,1402.31 1931.00,1402.21" fill="#fff"/></g>
<circle cx="1918.8" cy="1403.8" r="20.2" fill="#fff" stroke="#f23645" stroke-width="3"/><clipPath id="fc1918"><circle cx="1918.8" cy="1403.8" r="15.799999999999999"/></clipPath><g clip-path="url(#fc1918)"><rect x="1897.1" y="1388.00" width="43.4" height="6.32" fill="#ef5350"/><rect x="1897.1" y="1394.32" width="43.4" height="6.32" fill="#f8f9fd"/><rect x="1897.1" y="1400.64" width="43.4" height="6.32" fill="#ef5350"/><rect x="1897.1" y="1406.96" width="43.4" height="6.32" fill="#f8f9fd"/><rect x="1897.1" y="1413.28" width="43.4" height="6.32" fill="#ef5350"/><rect x="1897.1" y="1388.00" width="25.90" height="18.76" fill="#1e88e5"/><polygon points="1907.60,1390.30 1908.10,1391.51 1909.41,1391.61 1908.41,1392.46 1908.72,1393.74 1907.60,1393.06 1906.48,1393.74 1906.79,1392.46 1905.79,1391.61 1907.10,1391.51" fill="#fff"/><polygon points="1913.00,1390.30 1913.50,1391.51 1914.81,1391.61 1913.81,1392.46 1914.12,1393.74 1913.00,1393.06 1911.88,1393.74 1912.19,1392.46 1911.19,1391.61 1912.50,1391.51" fill="#fff"/><polygon points="1918.30,1390.30 1918.80,1391.51 1920.11,1391.61 1919.11,1392.46 1919.42,1393.74 1918.30,1393.06 1917.18,1393.74 1917.49,1392.46 1916.49,1391.61 1917.80,1391.51" fill="#fff"/><polygon points="1907.60,1395.90 1908.10,1397.11 1909.41,1397.21 1908.41,1398.06 1908.72,1399.34 1907.60,1398.65 1906.48,1399.34 1906.79,1398.06 1905.79,1397.21 1907.10,1397.11" fill="#fff"/><polygon points="1913.00,1395.90 1913.50,1397.11 1914.81,1397.21 1913.81,1398.06 1914.12,1399.34 1913.00,1398.65 1911.88,1399.34 1912.19,1398.06 1911.19,1397.21 1912.50,1397.11" fill="#fff"/><polygon points="1918.30,1395.90 1918.80,1397.11 1920.11,1397.21 1919.11,1398.06 1919.42,1399.34 1918.30,1398.65 1917.18,1399.34 1917.49,1398.06 1916.49,1397.21 1917.80,1397.11" fill="#fff"/><polygon points="1907.60,1401.00 1908.10,1402.21 1909.41,1402.31 1908.41,1403.16 1908.72,1404.44 1907.60,1403.75 1906.48,1404.44 1906.79,1403.16 1905.79,1402.31 1907.10,1402.21" fill="#fff"/><polygon points="1913.00,1401.00 1913.50,1402.21 1914.81,1402.31 1913.81,1403.16 1914.12,1404.44 1913.00,1403.75 1911.88,1404.44 1912.19,1403.16 1911.19,1402.31 1912.50,1402.21" fill="#fff"/><polygon points="1918.30,1401.00 1918.80,1402.21 1920.11,1402.31 1919.11,1403.16 1919.42,1404.44 1918.30,1403.75 1917.18,1404.44 1917.49,1403.16 1916.49,1402.31 1917.80,1402.21" fill="#fff"/></g>
<path d="M20 281H2749.6M20 1430.8H2749.6" stroke="#131722" stroke-width="2.1"/>
<path d="M20 1498.6H2749.6" stroke="#45474d" stroke-width="1.8"/>
<path d="M2547 54V1553" stroke="#3b3e47" stroke-width="1.6"/>
<g font-size="22" fill="#484a4e"><text x="2564.5" y="407.1" letter-spacing="1.4">4,000.0000000</text><text x="2564.5" y="469.8" letter-spacing="1.4">2,600.0000000</text><text x="2564.5" y="540.5" letter-spacing="1.4">1,600.0000000</text><text x="2564.5" y="608.9" letter-spacing="1.4">1,000.0000000</text><text x="2564.5" y="671.7" letter-spacing="1.5">650.0000000</text><text x="2564.5" y="738.8" letter-spacing="1.5">410.0000000</text><text x="2564.5" y="866.9" letter-spacing="1.5">170.0000000</text><text x="2564.5" y="930.3" letter-spacing="1.5">110.0000000</text><text x="2564.5" y="996.1" letter-spacing="1.5">70.0000000</text><text x="2564.5" y="1057.3" letter-spacing="1.5">46.0000000</text><text x="2564.5" y="1114.7" letter-spacing="1.5">31.0000000</text><text x="2564.5" y="1171.4" letter-spacing="1.5">21.0000000</text><text x="2564.5" y="1230.5" letter-spacing="1.5">14.0000000</text><text x="2564.5" y="1294.8" letter-spacing="1.5">9.0000000</text><text x="2564.5" y="1353.8" letter-spacing="1.5">6.0000000</text><text x="2564.5" y="1412.9" letter-spacing="1.5">4.0000000</text><text x="2563.8" y="119.9" letter-spacing="1.45">80.00</text><text x="2563.8" y="181.9" letter-spacing="1.45">60.00</text><text x="2563.8" y="244.0" letter-spacing="1.45">40.00</text></g>
<rect x="2554" y="290" width="187.5" height="51" rx="9" fill="#ffffff"/>
<text x="2572.8" y="324" font-size="24.5" fill="#000" letter-spacing="-0.6">USD</text>
<circle cx="2579" cy="350" r="0.9" fill="#777"/>
<rect x="2547.5" y="570" width="192.8" height="31.3" rx="3" fill="#000"/>
<text x="2564.5" y="593.4" font-size="22" fill="#fff" letter-spacing="1.4">1,119.2706267</text>
<path d="M2442 744.3H2547V775.5H2442A2.8 2.8 0 0 1 2439.2 772.7V747.1A2.8 2.8 0 0 1 2442 744.3Z" fill="#6aa584"/>
<path d="M2547 744.3H2717.6A3 3 0 0 1 2720.6 747.3V798.4A3 3 0 0 1 2717.6 801.4H2547Z" fill="#6aa584"/>
<text x="2448.5" y="767.9" font-size="22" fill="#fff" letter-spacing="-0.35">ZECUSD</text>
<text x="2564.5" y="767.9" font-size="22" fill="#fff" letter-spacing="1.38">338.4176511</text>
<text x="2564" y="793.6" font-size="22" fill="#fff" fill-opacity="0.72" letter-spacing="1.25">4d 11h</text>
<path d="M2547 744V802" stroke="#3b3e47" stroke-width="1.6"/>
<g fill="#484a4e" text-anchor="middle"><text x="119.4" y="1534.2" font-size="22.5" letter-spacing="-0.2">Jul</text><text x="231.9" y="1534.2" font-size="22.5" letter-spacing="-0.2">Sep</text><text x="344.4" y="1534.2" font-size="22.5" letter-spacing="-0.2">Nov</text><text x="444.4" y="1534.2" font-weight="bold" font-size="23" letter-spacing="2">2024</text><text x="556.8" y="1534.2" font-size="22.5" letter-spacing="-0.2">Mar</text><text x="669.3" y="1534.2" font-size="22.5" letter-spacing="-0.2">May</text><text x="769.3" y="1534.2" font-size="22.5" letter-spacing="-0.2">Jul</text><text x="881.7" y="1534.2" font-size="22.5" letter-spacing="-0.2">Sep</text><text x="994.2" y="1534.2" font-size="22.5" letter-spacing="-0.2">Nov</text><text x="1106.7" y="1534.2" font-weight="bold" font-size="23" letter-spacing="2">2025</text><text x="1206.7" y="1534.2" font-size="22.5" letter-spacing="-0.2">Mar</text><text x="1319.1" y="1534.2" font-size="22.5" letter-spacing="-0.2">May</text><text x="1431.6" y="1534.2" font-size="22.5" letter-spacing="-0.2">Jul</text><text x="1531.6" y="1534.2" font-size="22.5" letter-spacing="-0.2">Sep</text><text x="1644.1" y="1534.2" font-size="22.5" letter-spacing="-0.2">Nov</text><text x="1756.5" y="1534.2" font-weight="bold" font-size="23" letter-spacing="2">2026</text><text x="1856.5" y="1534.2" font-size="22.5" letter-spacing="-0.2">Mar</text><text x="1969.0" y="1534.2" font-size="22.5" letter-spacing="-0.2">May</text><text x="2081.5" y="1534.2" font-size="22.5" letter-spacing="-0.2">Jul</text><text x="2193.9" y="1534.2" font-size="22.5" letter-spacing="-0.2">Sep</text><text x="2293.9" y="1534.2" font-size="22.5" letter-spacing="-0.2">Nov</text><text x="2406.4" y="1534.2" font-weight="bold" font-size="23" letter-spacing="2">2027</text><text x="2506.4" y="1534.2" font-size="22.5" letter-spacing="-0.2">Mar</text></g>
<text x="36.5" y="1472" font-size="25.5" fill="#46484c">Funding Rate: This fundamental metric isn't available for this symbol.</text>
<text x="37.3" y="94" font-size="24" fill="#46484c">RSI (14, close)</text>
<text x="212.5" y="94" font-size="24" fill="#7e57c2" letter-spacing="0.5">55.02</text>
<text x="290.8" y="94" font-size="24" fill="#fdd835">48.16</text>
<text x="36.5" y="321.6" font-size="24" fill="#46484c" letter-spacing="0.17">Zcash / U.S. Dollar · 1W · Binance</text><text x="425.3" y="321.6" font-size="24" fill="#46484c">O</text><text x="443" y="321.6" font-size="24" fill="#1b5e3b" letter-spacing="0.95">245.2617649</text><text x="607.7" y="321.6" font-size="24" fill="#46484c">H</text><text x="625.5" y="321.6" font-size="24" fill="#1b5e3b" letter-spacing="0.95">339.0728391</text><text x="789.2" y="321.6" font-size="24" fill="#46484c">L</text><text x="803.5" y="321.6" font-size="24" fill="#1b5e3b" letter-spacing="0.5">245.0821214</text><text x="963.5" y="321.6" font-size="24" fill="#46484c">C</text><text x="981" y="321.6" font-size="24" fill="#1b5e3b" letter-spacing="0.42">338.4176511</text><text x="1136" y="321.6" font-size="24" fill="#1b5e3b" letter-spacing="1.1">+93.8033692 (+38.35%)</text><text x="36.5" y="355.4" font-size="24" fill="#46484c" letter-spacing="0.5">EMA (50, close)</text><text x="229.7" y="355.4" font-size="24" fill="#f23645" letter-spacing="0.95">235.4397470</text><text x="36.5" y="389.1" font-size="24" fill="#46484c" letter-spacing="0.5">EMA (200, close)</text><text x="244.4" y="389.1" font-size="24" fill="#2962ff" letter-spacing="0.85">125.7302938</text><text x="36.5" y="422.8" font-size="24" fill="#46484c" letter-spacing="-0.2">Vol · ZEC</text><text x="153.5" y="422.8" font-size="24" fill="#22ab94" letter-spacing="-0.5">15.29 K</text><text x="36.5" y="456.5" font-size="24" fill="#46484c" letter-spacing="0.5">EMA (20, close)</text><text x="229.7" y="456.5" font-size="24" fill="#00664f" letter-spacing="0.8">284.1718589</text><text x="36.5" y="490.2" font-size="24" fill="#46484c" letter-spacing="0.3">EMA (100, close)</text><text x="241" y="490.2" font-size="24" fill="#512da8" letter-spacing="0.85">169.5826080</text>
<text x="20.5" y="40" font-size="25.5" fill="#dcdcdc" letter-spacing="0.09">bitcoinwallah created with TradingView.com, Apr 08, 2026 09:51 UTC-4</text>
<g fill="#d9d9d9"><path d="M24 1598.1H47.8V1628H36V1610.1H24Z"/><circle cx="58.1" cy="1604" r="6"/><path d="M70.2 1598.1H83.7L71.9 1628H58.1Z"/></g>
<defs><clipPath id="cpW"><rect x="300" y="1606.2" width="45" height="21.6"/></clipPath><clipPath id="cpV"><rect x="235" y="1597.9" width="45" height="29.9"/></clipPath></defs>
<g fill="#d9d9d9">
<rect x="97.9" y="1597.9" width="22.2" height="6.1"/><rect x="105.8" y="1597.9" width="6.4" height="30.1"/>
<rect x="119.8" y="1606.1" width="6.3" height="21.9"/>
<rect x="149.9" y="1606.1" width="6.1" height="21.9"/>
<rect x="176" y="1597.9" width="5.9" height="30.1"/>
<circle cx="189.1" cy="1600.3" r="4"/><rect x="186" y="1606.1" width="6.2" height="21.9"/>
<rect x="195.8" y="1606.1" width="6.3" height="21.9"/>
<circle cx="277.1" cy="1600.4" r="4"/><rect x="273.9" y="1606.2" width="6.2" height="21.6"/>
<rect x="288" y="1613.9" width="18.1" height="4.9"/>
</g>
<g fill="none" stroke="#d9d9d9">
<path d="M122.95 1628V1618.6A9.7 9.7 0 0 1 132.7 1608.9" stroke-width="6.1"/>
<circle cx="145.15" cy="1617.05" r="8.75" stroke-width="6"/>
<circle cx="170.9" cy="1617.05" r="8.75" stroke-width="6"/>
<path d="M198.95 1628V1615A6.85 6.85 0 0 1 212.65 1615V1628" stroke-width="6.3"/>
<circle cx="231.3" cy="1616.6" r="8.8" stroke-width="6.2"/>
<path d="M238.8 1605.9V1627.3A7.8 7.4 0 0 1 224.25 1631" stroke-width="6"/>
<path d="M303.4 1616.6A8.8 8.8 0 1 0 302.2 1621.6" stroke-width="5.9"/>
<polyline clip-path="url(#cpW)" points="308.9,1600 315.6,1632 322.3,1609.5 329.6,1632 336.9,1600" stroke-width="6.4" stroke-linejoin="miter" stroke-miterlimit="10"/>
<polyline clip-path="url(#cpV)" points="243.1,1590 257,1630.5 270.6,1590" stroke-width="6.5" stroke-linejoin="miter" stroke-miterlimit="10"/>
</g>
</svg></body></html>
